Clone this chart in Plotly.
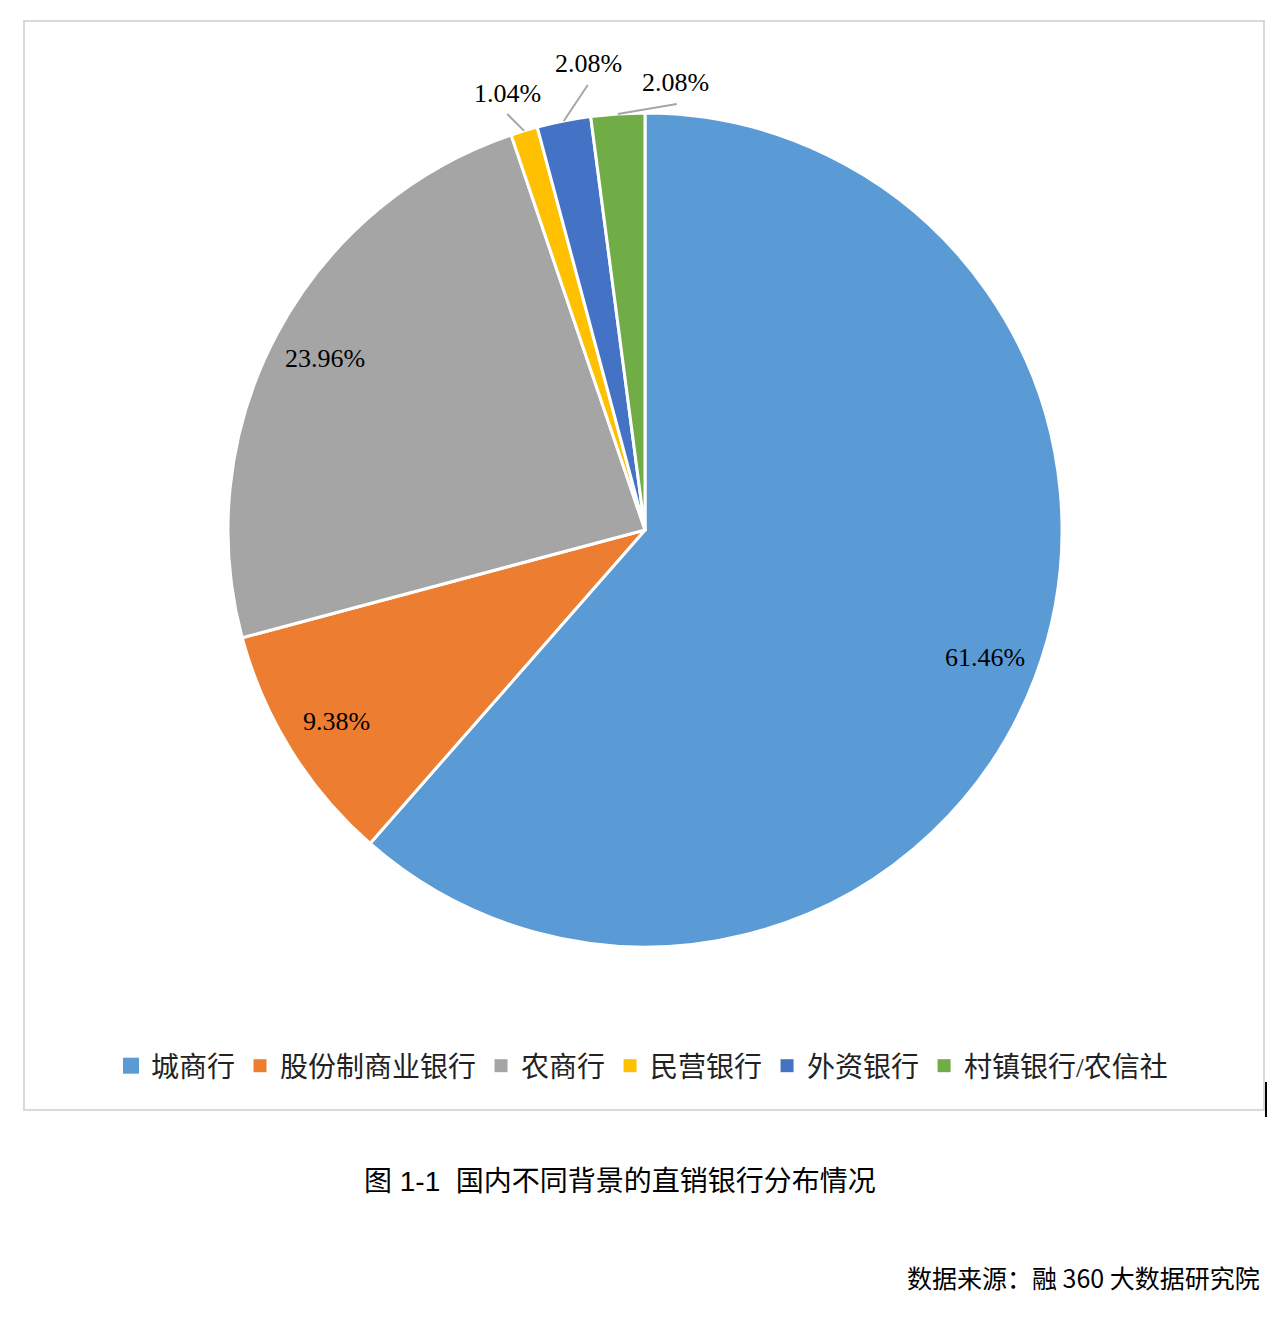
import math

import plotly.graph_objects as go

# 直销银行背景分布（%）
labels = ["城商行", "股份制商业银行", "农商行", "民营银行", "外资银行", "村镇银行/农信社"]
shares = [61.46, 9.38, 23.96, 1.04, 2.08, 2.08]
colors = ["#5B9BD5", "#ED7D31", "#A5A5A5", "#FFC000", "#4472C4", "#70AD47"]

W, H = 1283, 1325
OFF = 8                     # 页面 body 默认边距
cx, cy, r = 645, 530, 417   # 饼图中心和半径（截图像素）
label_k = 0.87              # 内部标签所在半径比例

# 小扇区的外部标签：(引线终点偏移, 标签中心偏移)，相对扇区外缘中点
outside = {
    3: ((-17, -17), (-17, -37)),
    4: ((24, -36), (25, -57)),
    5: ((59, -10), (58, -31)),
}

serif = "Liberation Serif, Noto Sans CJK SC"
sans = "Liberation Sans, Noto Sans CJK SC"


def px(x):
    return (x - OFF) / W


def py(y):
    return 1 - (y - OFF) / H


def polar(angle, k):
    return cx + k * r * math.sin(angle), cy - k * r * math.cos(angle)


# 每个扇区的中线角度（顺时针，自 12 点起）
total = sum(shares)
mid_angles = []
acc = 0
for s in shares:
    mid_angles.append((acc + s / 2) / total * 2 * math.pi)
    acc += s

fig = go.Figure()
fig.add_trace(go.Pie(
    labels=labels,
    values=shares,
    sort=False,
    direction="clockwise",
    rotation=0,
    marker=dict(colors=colors, line=dict(color="white", width=3)),
    textinfo="none",
    hoverinfo="label+value",
    showlegend=False,
    domain=dict(x=[px(cx - r), px(cx + r)], y=[py(cy + r), py(cy - r)]),
))

# 图例用的空散点
for i, (name, c) in enumerate(zip(labels, colors)):
    fig.add_trace(go.Scatter(
        x=[None], y=[None], mode="markers", name=name,
        marker=dict(symbol="square", size=16 if i == 0 else 13, color=c,
                    line=dict(width=0)),
        hoverinfo="skip",
    ))

annotations = []
shapes = [
    # 图表外框
    dict(type="rect", xref="paper", yref="paper",
         x0=px(24), x1=px(1264), y0=py(1110), y1=py(21),
         line=dict(color="#D9D9D9", width=2), fillcolor="rgba(0,0,0,0)"),
    dict(type="line", xref="paper", yref="paper",
         x0=px(1266), x1=px(1266), y0=py(1117), y1=py(1082),
         line=dict(color="black", width=2)),
]

for i, a in enumerate(mid_angles):
    txt = f"{shares[i]:.2f}%"
    if i in outside:
        ex, ey = polar(a, 1.0)
        (lx, ly), (tx, ty) = outside[i]
        shapes.append(dict(type="line", xref="paper", yref="paper",
                           x0=px(ex), y0=py(ey), x1=px(ex + lx), y1=py(ey + ly),
                           line=dict(color="#A6A6A6", width=2)))
        x, y = ex + tx, ey + ty
    else:
        x, y = polar(a, label_k)
    annotations.append(dict(text=txt, xref="paper", yref="paper", x=px(x), y=py(y),
                            xanchor="center", yanchor="middle", showarrow=False,
                            font=dict(family=serif, size=26, color="black")))

annotations += [
    dict(text="图 1-1  国内不同背景的直销银行分布情况", xref="paper", yref="paper",
         x=px(620), y=py(1181), xanchor="center", yanchor="middle",
         showarrow=False, font=dict(family=sans, size=28, color="black")),
    dict(text="数据来源：融 360 大数据研究院", xref="paper", yref="paper",
         x=px(1262), y=py(1277), xanchor="right", yanchor="middle",
         showarrow=False, font=dict(family="Noto Sans CJK SC", size=25, color="black")),
]

fig.update_layout(
    width=W, height=H,
    margin=dict(l=0, r=0, t=0, b=0),
    paper_bgcolor="white",
    plot_bgcolor="white",
    xaxis=dict(visible=False),
    yaxis=dict(visible=False),
    showlegend=True,
    legend=dict(
        orientation="h", x=px(642), xanchor="center",
        y=py(1066), yanchor="middle",
        font=dict(family=serif, size=28, color="#222"),
        itemsizing="trace", itemwidth=30, bgcolor="rgba(0,0,0,0)",
    ),
    shapes=shapes,
    annotations=annotations,
)

fig.write_html("out.html")
